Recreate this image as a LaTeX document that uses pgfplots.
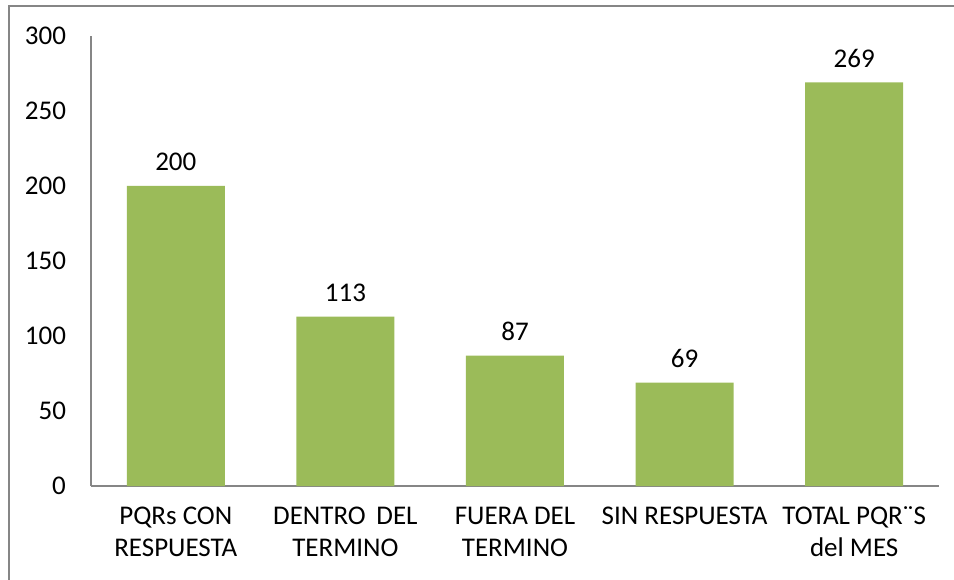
\documentclass[border=0pt]{standalone}
\usepackage{pgfplots}
\pgfplotsset{compat=1.18}
\usepackage{fontspec}
\setmainfont{Carlito}
\definecolor{bargreen}{HTML}{9BBB59}
\definecolor{axgray}{HTML}{868686}
\begin{document}
\begin{tikzpicture}
\useasboundingbox (0,0) rectangle (477pt,289.5pt);
\draw[axgray, line width=1pt] (4.35pt,-20pt) rectangle (500pt,286.5pt);
\begin{axis}[
  at={(45.5pt,46.5pt)}, anchor=south west,
  scale only axis, width=424pt, height=225pt,
  xmin=-0.5, xmax=4.5, ymin=0, ymax=300,
  ytick={0,50,...,300},
  xtick={0,1,2,3,4},
  xticklabels={{PQRs CON\\RESPUESTA},{DENTRO\, DEL\\TERMINO},{FUERA DEL\\TERMINO},{SIN RESPUESTA},{TOTAL PQR¨S\\del MES}},
  axis x line*=bottom, axis y line*=left,
  axis line style={axgray, line width=0.75pt, -},
  major tick length=0pt,
  /pgf/number format/assume math mode=true,
  tick label style={font=\fontsize{13.5}{16}\selectfont, text=black},
  yticklabel style={xshift=-9pt},
  xticklabel style={align=center, yshift=-7pt},
  ybar, bar width=49pt,
  nodes near coords,
  every node near coord/.append style={font=\fontsize{13.5}{16}\selectfont, text=black, yshift=4pt},
  clip=false,
]
\addplot[fill=bargreen, draw=none] coordinates {(0,200) (1,113) (2,87) (3,69) (4,269)};
\end{axis}
\end{tikzpicture}
\end{document}
